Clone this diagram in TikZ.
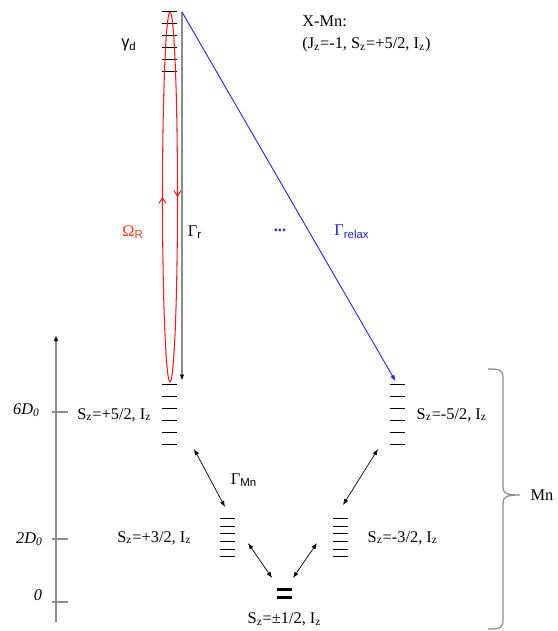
\documentclass[tikz,border=0pt]{standalone}
\usepackage{fontspec}
\setmainfont{Liberation Serif}
\setsansfont{Liberation Sans}
\usetikzlibrary{
  arrows.meta,
  positioning,
  decorations.markings
}
\definecolor{xmred}{HTML}{FF1A1A}
\definecolor{xmorange}{HTML}{F23C14}
\definecolor{xmblue}{HTML}{1F1FF0}
\definecolor{xmgray}{HTML}{8C8C8C}

\begin{document}
\begin{tikzpicture}[
      x=0.02cm, y=-0.02cm,
      font=\fontsize{9.3}{11.2}\selectfont,
      level/.style={line width=0.6pt, black},
      stack/.style={rectangle, inner sep=0pt, minimum width=0.3cm},
      label/.style={inner sep=0pt},
      rabi/.style={xmred, line width=0.6pt, postaction=decorate,
        decoration={markings, mark=at position 0.5 with {\arrow{Straight Barb[length=3pt,width=4pt]}}}},
      decay/.style={-{Latex[length=3.5pt,width=2.6pt,black]}, line width=0.7pt},
      hop/.style={{Latex[length=3.5pt,width=2.6pt]}-{Latex[length=3.5pt,width=2.6pt]}, line width=0.4pt, black}
    ]
      \useasboundingbox (0,0) rectangle (557,631);

      % Level stacks
      \node[stack, minimum height=1.2cm] (top) at (169.5,42) {};
      \node[stack, minimum height=1.2cm] (up5) at (169.5,415) {};
      \node[stack, minimum height=1.2cm] (dn5) at (397.5,415) {};
      \node[stack, minimum height=0.76cm] (up3) at (227.5,538) {};
      \node[stack, minimum height=0.76cm] (dn3) at (340.5,538) {};
      \node[stack, minimum height=0.14cm] (half) at (284.5,593.5) {};

      \foreach \k in {0,...,5} {
        \draw[level] (top.north west) ++(0,12*\k) -- ++(15,0);
        \draw[level] (up5.north west) ++(0,12*\k) -- ++(15,0);
        \draw[level] (dn5.north west) ++(0,12*\k) -- ++(15,0);
        \draw[level] (up3.north west) ++(0,7.6*\k) -- ++(15,0);
        \draw[level] (dn3.north west) ++(0,7.6*\k) -- ++(15,0);
      }
      \draw[line width=1.6pt] (half.north west) -- (half.north east);
      \draw[line width=1.6pt] (half.south west) -- (half.south east);

      % Level labels
      \node[label, left=0.2cm of up5] (lup5) {S\textsubscript{z}=+5/2, I\textsubscript{z}};
      \node[label, right=0.22cm of dn5] (ldn5) {S\textsubscript{z}=-5/2, I\textsubscript{z}};
      \node[label, left=0.56cm of up3] (lup3) {S\textsubscript{z}=+3/2, I\textsubscript{z}};
      \node[label, right=0.38cm of dn3] (ldn3) {S\textsubscript{z}=-3/2, I\textsubscript{z}};
      \node[label, below=0.3cm of half] (lhalf) {S\textsubscript{z}=±1/2, I\textsubscript{z}};
      \node[label, anchor=north west, align=left, font=\fontsize{9.3}{13}\selectfont] (xmn) at (302,15)
        {X-Mn:\\(J\textsubscript{z}=-1, S\textsubscript{z}=+5/2, I\textsubscript{z})};
      \node[label, font=\fontsize{9.3}{11.2}\sffamily] (gd) at (129,45) {γ\textsubscript{d}};

      % Rabi loop
      \coordinate (ebot) at (170,382);
      \coordinate (etop) at (170,12);
      \draw[rabi] (ebot) arc[start angle=270, end angle=90, x radius=0.15cm, y radius=3.7cm];
      \draw[rabi] (etop) arc[start angle=90, end angle=-90, x radius=0.15cm, y radius=3.7cm];

      % Decays
      \coordinate (src) at (182,12);
      \draw[decay, xmgray] (src) -- (src |- up5.north) [shorten >=0.08cm];
      \draw[-{Latex[length=3.5pt,width=2.6pt]}, xmblue, line width=0.5pt, shorten >=0.08cm] (src) -- (dn5.north);

      \node[label, xmorange] (om) at (133,232) {Ω\textsubscript{\sffamily R}};
      \node[label] (gr) at (195,232) {Γ\textsubscript{\sffamily r}};
      \node[label, xmblue] (dots) at (280,230) {\textbf{...}};
      \node[label, xmblue] (grel) at (352,232) {Γ\textsubscript{\sffamily relax}};

      % Mn transitions
      \coordinate (m1) at (194,449);
      \coordinate (m2) at (225,507);
      \coordinate (m3) at (378,449);
      \coordinate (m4) at (343,505);
      \coordinate (m5) at (248,543);
      \coordinate (m6) at (272,578);
      \coordinate (m7) at (317,543);
      \coordinate (m8) at (293,578);
      \draw[hop] (m1) -- (m2);
      \draw[hop] (m3) -- (m4);
      \draw[hop] (m5) -- (m6);
      \draw[hop] (m7) -- (m8);
      \node[label] (gmn) at (244,480) {Γ\textsubscript{\sffamily Mn}};

      % Energy axis
      \coordinate (axbot) at (56,622);
      \coordinate (axtop) at (56,335);
      \draw[xmgray, line width=0.7pt, -{Latex[length=3.5pt,width=2.6pt,black]}] (axbot) -- (axtop);
      \draw[xmgray, line width=0.7pt] (52,412) -- (68,412);
      \draw[xmgray, line width=0.7pt] (52,539) -- (68,539);
      \draw[xmgray, line width=0.7pt] (52,602) -- (68,602);
      \node[label, anchor=east] (e6) at (40,410) {\textit{6D\textsubscript{0}}};
      \node[label, anchor=east] (e2) at (43,539) {\textit{2D\textsubscript{0}}};
      \node[label] (e0) at (38,595) {\textit{0}};

      % Mn brace
      \draw[xmgray, line width=0.7pt] (488,369) .. controls (500,369) and (503,370) .. (503,378)
        -- (503,487) .. controls (503,493) and (506,495) .. (520,495)
        .. controls (506,495) and (503,497) .. (503,503)
        -- (503,620) .. controls (503,628) and (500,629) .. (488,629);
      \node[label] (mn) at (542,495) {Mn};
    \end{tikzpicture}
\end{document}
